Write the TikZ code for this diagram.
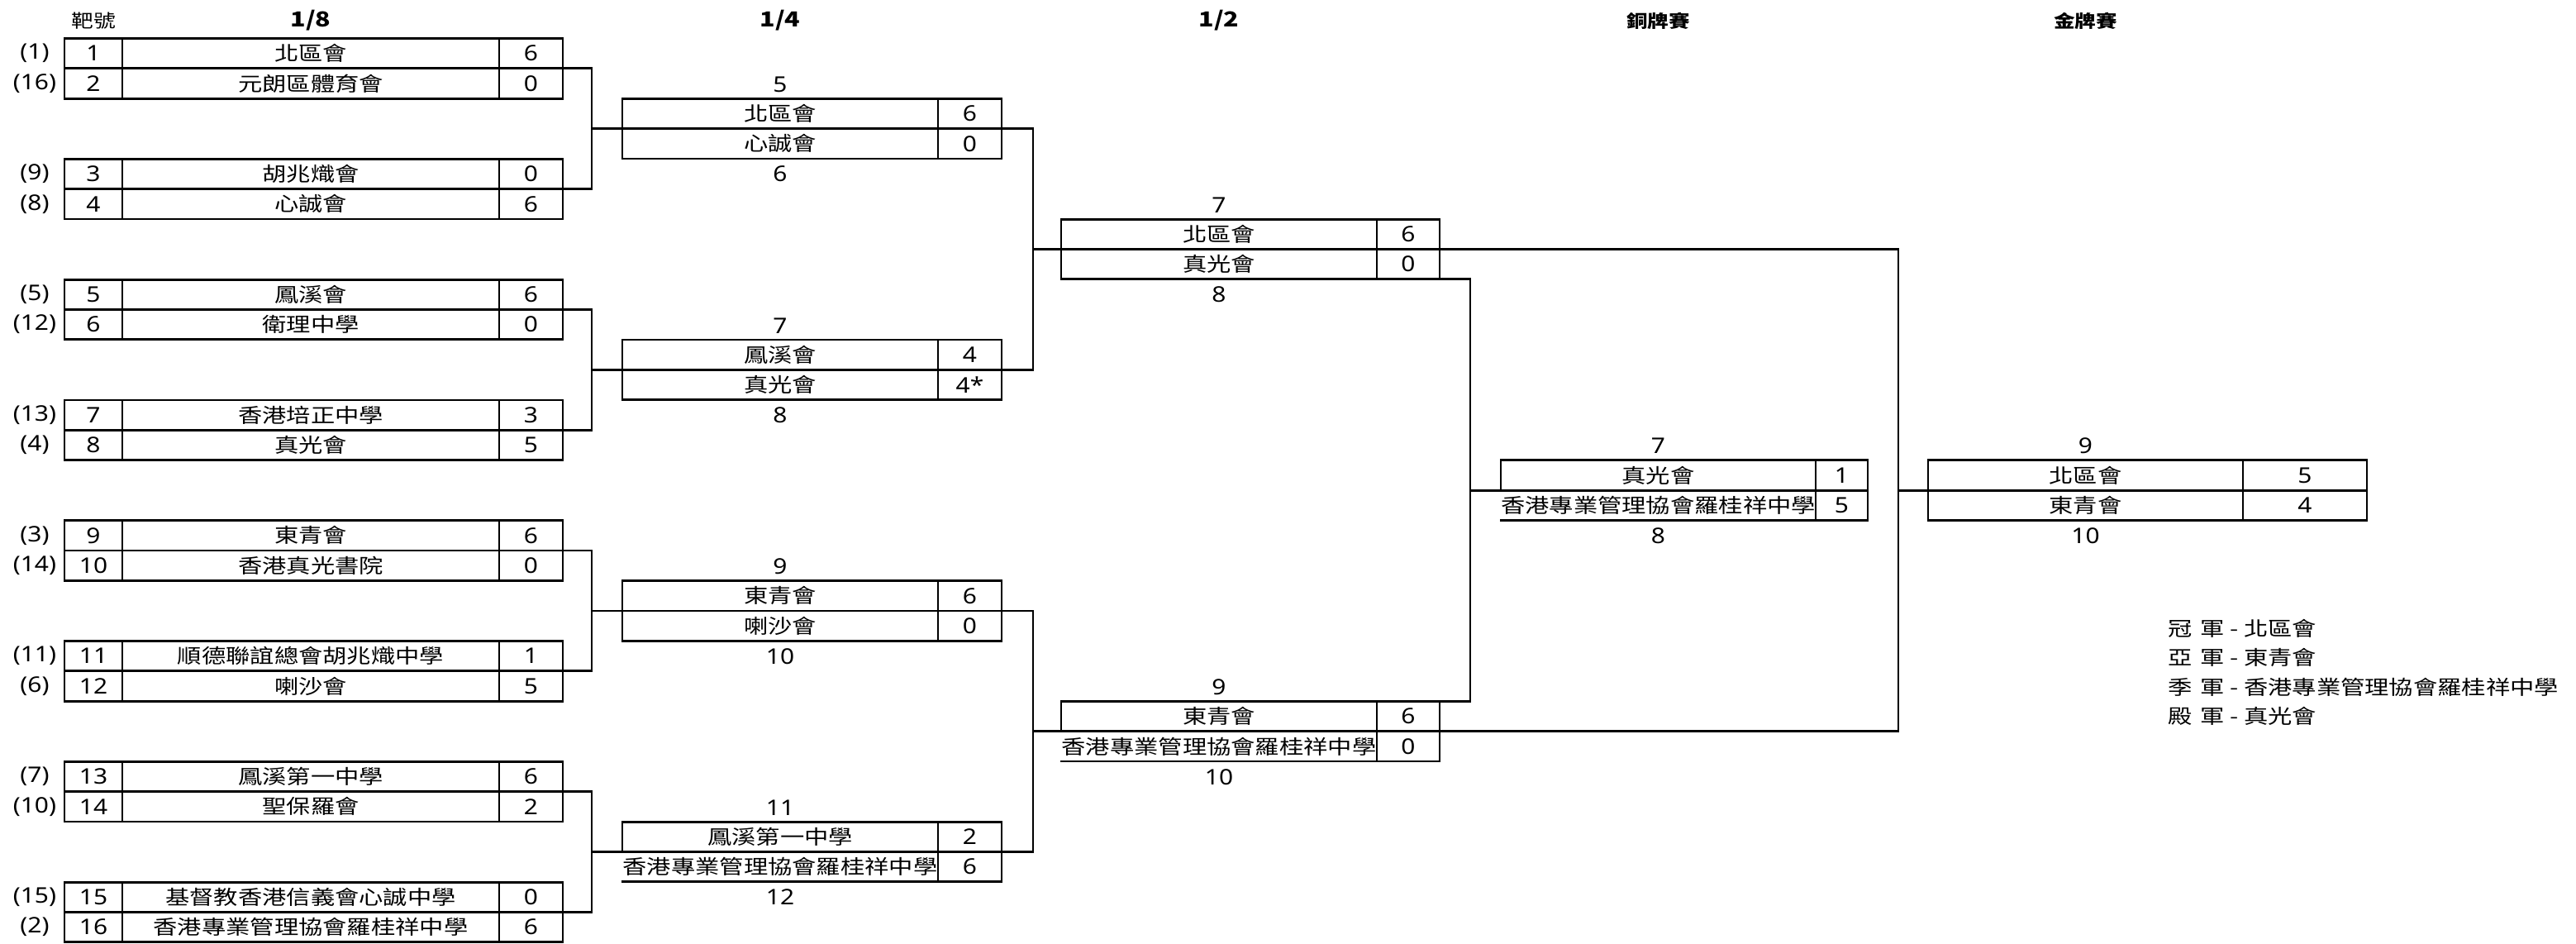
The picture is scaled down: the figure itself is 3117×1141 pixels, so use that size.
\documentclass[tikz,border=0pt]{standalone}
\usepackage{fontspec}
\setmainfont{Noto Sans CJK TC}[FakeStretch=1.22]
\newfontfamily\dig{Noto Sans}[FakeStretch=1.15]
% #1 name, #2 left x, #3 score divider x, #4 right x, #5 mid y, #6 team A, #7 score A, #8 team B, #9 score B
\newcommand\matchbox[9]{%
  \draw[ln] (#2,{#5+36.3}) -- (#4,{#5+36.3}) -- (#4,{#5-36.3}) -- (#2,{#5-36.3}) -- (#2,#5);
  \draw[ln] (#2,#5) -- (#4,#5);
  \draw[dv] (#3,{#5-36.3}) -- (#3,{#5+36.3});
  \node[tx] (#1a) at ({(#2+#3)/2},{#5-18.15}) {#6};
  \node[nm] (#1as) at ({(#3+#4)/2},{#5-18.15}) {#7};
  \node[tx] (#1b) at ({(#2+#3)/2},{#5+18.15}) {#8};
  \node[nm] (#1bs) at ({(#3+#4)/2},{#5+18.15}) {#9};
  \coordinate (#1L) at (#2,#5);
  \coordinate (#1R) at (#4,#5);
  \coordinate (#1TR) at (#4,{#5-36.3});
  \coordinate (#1BR) at (#4,{#5+36.3});
  \coordinate (#1BL) at (#2,{#5+36.3});
}
\begin{document}
\begin{tikzpicture}[x=0.5pt,y=-0.5pt,
  ln/.style={line width=1.4pt,line cap=rect},
  dv/.style={line width=1.0pt},
  tx/.style={inner sep=0pt,font=\fontsize{12pt}{14pt}\selectfont},
  nm/.style={inner sep=0pt,font=\fontsize{13pt}{15pt}\selectfont\dig},
  hd/.style={inner sep=0pt,font=\fontsize{10.5pt}{12pt}\selectfont\bfseries},
  hdn/.style={inner sep=0pt,font=\fontsize{12.5pt}{14pt}\selectfont\bfseries},
  hdr/.style={inner sep=0pt,font=\fontsize{11pt}{13pt}\selectfont},
  lg/.style={inner sep=0pt,anchor=west,font=\fontsize{12pt}{14pt}\selectfont}]
\useasboundingbox (0,0) rectangle (3117,1141);

% headers
\node[hdr] (hSeed) at (113,25) {靶號};
\node[hdn] (h18) at (376,25) {1/8};
\node[hdn] (h14) at (944,25) {1/4};
\node[hdn] (h12) at (1475,25) {1/2};
\node[hd] (hBr) at (2006.5,25) {銅牌賽};
\node[hd] (hGo) at (2523.5,25) {金牌賽};

% round of 16
\foreach \k/\sa/\ta/\pa/\sb/\tb/\pb in {
 0/1/北區會/6/16/元朗區體育會/0,
 1/9/胡兆熾會/0/8/心誠會/6,
 2/5/鳳溪會/6/12/衛理中學/0,
 3/13/香港培正中學/3/4/真光會/5,
 4/3/東青會/6/14/香港真光書院/0,
 5/11/順德聯誼總會胡兆熾中學/1/6/喇沙會/5,
 6/7/鳳溪第一中學/6/10/聖保羅會/2,
 7/15/基督教香港信義會心誠中學/0/2/香港專業管理協會羅桂祥中學/6}{
  \pgfmathsetmacro\T{46.5+145.8*\k}
  \pgfmathtruncatemacro\na{2*\k+1}
  \pgfmathtruncatemacro\nb{2*\k+2}
  \draw[ln] (78,\T) rectangle (681,\T+72.6);
  \draw[ln] (78,\T+36.3) -- (681,\T+36.3);
  \draw[dv] (148,\T) -- (148,\T+72.6) (604,\T) -- (604,\T+72.6);
  \node[nm] (sa\k) at (42,\T+18.15) {(\sa)};
  \node[nm] (na\k) at (113,\T+18.15) {\na};
  \node[tx] (ta\k) at (376,\T+18.15) {\ta};
  \node[nm] (pa\k) at (642.5,\T+18.15) {\pa};
  \node[nm] (sb\k) at (42,\T+54.45) {(\sb)};
  \node[nm] (nb\k) at (113,\T+54.45) {\nb};
  \node[tx] (tb\k) at (376,\T+54.45) {\tb};
  \node[nm] (pb\k) at (642.5,\T+54.45) {\pb};
  \coordinate (r\k) at (681,\T+36.3);
}

% quarter finals
\matchbox{q0}{753}{1135}{1212}{155.7}{北區會}{6}{心誠會}{0}
\matchbox{q1}{753}{1135}{1212}{447.3}{鳳溪會}{4}{真光會}{4*}
\matchbox{q2}{753}{1135}{1212}{738.9}{東青會}{6}{喇沙會}{0}
\matchbox{q3}{753}{1135}{1212}{1030.5}{鳳溪第一中學}{2}{香港專業管理協會羅桂祥中學}{6}
\draw[ln] (q0L) -- (q0BL);
\draw[ln] (q1L) -- (q1BL);
\draw[ln] (q2L) -- (q2BL);
\node[nm] (q0up) at (944,102.2) {5};
\node[nm] (q0dn) at (944,210.7) {6};
\node[nm] (q1up) at (944,393.8) {7};
\node[nm] (q1dn) at (944,502.3) {8};
\node[nm] (q2up) at (944,685.4) {9};
\node[nm] (q2dn) at (944,793.9) {10};
\node[nm] (q3up) at (944,977) {11};
\node[nm] (q3dn) at (944,1085.5) {12};

% semi finals
\matchbox{s0}{1284}{1666}{1742}{301.5}{北區會}{6}{真光會}{0}
\matchbox{s1}{1284}{1666}{1742}{884.7}{東青會}{6}{香港專業管理協會羅桂祥中學}{0}
\draw[ln] (s0L) -- (s0BL);
\node[nm] (s0up) at (1475,248) {7};
\node[nm] (s0dn) at (1475,356.5) {8};
\node[nm] (s1up) at (1475,831.2) {9};
\node[nm] (s1dn) at (1475,939.7) {10};

% bronze and gold
\matchbox{br}{1816}{2197}{2260}{593.1}{真光會}{1}{香港專業管理協會羅桂祥中學}{5}
\matchbox{go}{2333}{2714}{2864}{593.1}{北區會}{5}{東青會}{4}
\draw[ln] (goL) -- (goBL);
\node[nm] (brup) at (2006.5,539.6) {7};
\node[nm] (brdn) at (2006.5,648.1) {8};
\node[nm] (goup) at (2523.5,539.6) {9};
\node[nm] (godn) at (2523.5,648.1) {10};

% connectors round of 16 -> quarter finals
\coordinate (v0) at (716,155.7);
\coordinate (v1) at (716,447.3);
\coordinate (v2) at (716,738.9);
\coordinate (v3) at (716,1030.5);
\draw[ln] (r0) -| (v0) |- (r1); \draw[ln] (v0) -- (q0L);
\draw[ln] (r2) -| (v1) |- (r3); \draw[ln] (v1) -- (q1L);
\draw[ln] (r4) -| (v2) |- (r5); \draw[ln] (v2) -- (q2L);
\draw[ln] (r6) -| (v3) |- (r7); \draw[ln] (v3) -- (q3L);

% quarter finals -> semi finals
\coordinate (w0) at (1250,301.5);
\coordinate (w1) at (1250,884.7);
\draw[ln] (q0R) -| (w0) |- (q1R); \draw[ln] (w0) -- (s0L);
\draw[ln] (q2R) -| (w1) |- (q3R); \draw[ln] (w1) -- (s1L);

% semi finals -> bronze (losers) and gold (winners)
\coordinate (b0) at (1779,593.1);
\coordinate (g0) at (2297,593.1);
\draw[ln] (s0BR) -| (b0) |- (s1TR); \draw[ln] (b0) -- (brL);
\draw[ln] (s0R) -| (g0) |- (s1R); \draw[ln] (g0) -- (goL);

% final standings
\node[lg] (lg1) at (2623,760) {冠\hspace{5pt}軍 - 北區會};
\node[lg] (lg2) at (2623,795.5) {亞\hspace{5pt}軍 - 東青會};
\node[lg] (lg3) at (2623,831) {季\hspace{5pt}軍 - 香港專業管理協會羅桂祥中學};
\node[lg] (lg4) at (2623,866.5) {殿\hspace{5pt}軍 - 真光會};
\end{tikzpicture}
\end{document}
